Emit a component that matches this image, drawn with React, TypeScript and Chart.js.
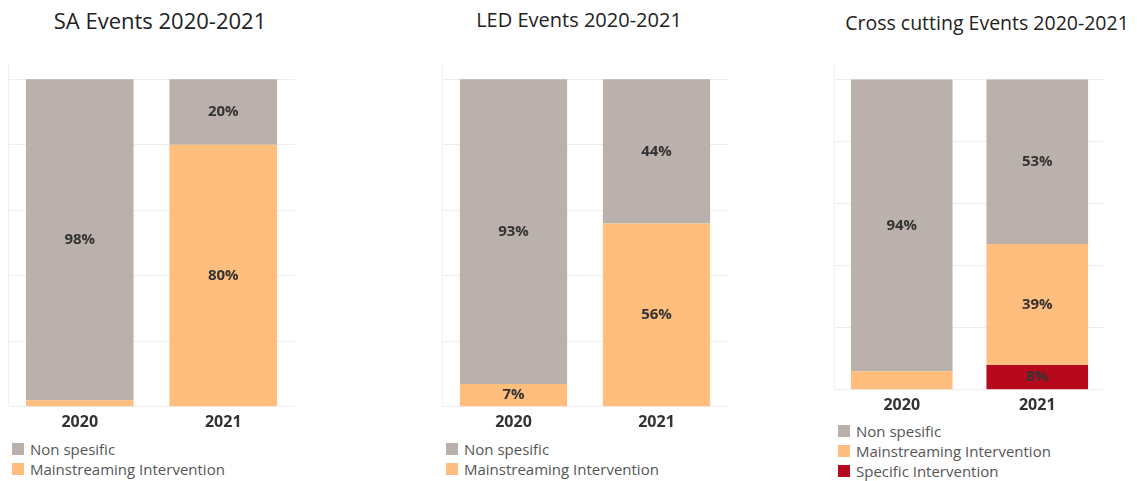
import React, { useEffect, useRef } from 'react';
import Chart from 'chart.js/auto';

const years = ['2020', '2021'];
const seriesNames = ['Non spesific', 'Mainstreaming Intervention', 'Specific Intervention'];
const seriesColors = ['#bab0ac', '#ffbe7d', '#b60a1c'];

const saNonSpecific = [98, 20];
const saMainstreaming = [2, 80];

const ledNonSpecific = [93, 44];
const ledMainstreaming = [7, 56];

const crossNonSpecific = [94, 53];
const crossMainstreaming = [6, 39];
const crossSpecific = [0, 8];

const FONT = '"Open Sans", "DejaVu Sans", sans-serif';

// writes the % inside each stacked segment, skips the tiny ones
const segmentLabels = {
  id: 'segmentLabels',
  afterDatasetsDraw(chart: any) {
    const ctx = chart.ctx;
    ctx.save();
    ctx.font = `bold 15px ${FONT}`;
    ctx.fillStyle = '#333333';
    ctx.textAlign = 'center';
    ctx.textBaseline = 'middle';
    chart.data.datasets.forEach((ds: any, i: number) => {
      const meta = chart.getDatasetMeta(i);
      meta.data.forEach((bar: any, j: number) => {
        const v = ds.data[j];
        if (v < 7) return;
        ctx.fillText(`${v}%`, bar.x, (bar.y + bar.base) / 2);
      });
    });
    ctx.restore();
  },
};

interface Series {
  name: string;
  color: string;
  values: number[];
}

interface PanelProps {
  title: string;
  titleSize: number;
  titleX: number;
  titleY: number;
  left: number;
  top: number;
  width: number;
  height: number;
  series: Series[]; // bottom of stack first
  legendX: number;
  legendY: number;
}

function Panel(props: PanelProps) {
  const chartRef = useRef<HTMLCanvasElement>(null);

  useEffect(() => {
    let myChart: any = null;
    if (chartRef.current) {
      myChart = new Chart(chartRef.current, {
        type: 'bar',
        data: {
          labels: years,
          datasets: props.series.map(s => ({
            label: s.name,
            data: s.values,
            backgroundColor: s.color,
            borderWidth: 0,
            barPercentage: 0.75,
            categoryPercentage: 1,
          })),
        },
        options: {
          animation: false,
          responsive: true,
          maintainAspectRatio: false,
          layout: { padding: 0 },
          plugins: {
            legend: { display: false },
            tooltip: { enabled: false },
          },
          scales: {
            x: {
              stacked: true,
              grid: { display: false, drawTicks: false },
              border: { display: false },
              ticks: {
                color: '#333333',
                padding: 6,
                font: { family: FONT, size: 16, weight: 'bold' },
              },
            },
            y: {
              stacked: true,
              min: 0,
              max: 105,
              afterBuildTicks: (axis: any) => {
                axis.ticks = axis.ticks.filter((t: any) => t.value % 20 === 0);
              },
              ticks: { display: false, stepSize: 20 },
              grid: { color: '#eeeeee', drawTicks: false },
              border: { display: true, color: '#f0f0f0' },
            },
          },
        },
        plugins: [segmentLabels],
      });
    }
    return () => {
      if (myChart) myChart.destroy();
    };
  }, []);

  const legendSeries = [...props.series].reverse();

  return (
    <>
      <div
        style={{
          position: 'absolute',
          left: props.titleX,
          top: props.titleY - 15,
          transform: 'translateX(-50%)',
          whiteSpace: 'nowrap',
          fontFamily: FONT,
          fontSize: props.titleSize,
          lineHeight: '30px',
          color: '#222222',
        }}
      >
        {props.title}
      </div>
      <div
        style={{
          position: 'absolute',
          left: props.left,
          top: props.top,
          width: props.width,
          height: props.height,
        }}
      >
        <canvas ref={chartRef} />
      </div>
      <div style={{ position: 'absolute', left: props.legendX, top: props.legendY - 10 }}>
        {legendSeries.map(s => (
          <div
            key={s.name}
            style={{ display: 'flex', alignItems: 'center', height: 20, fontFamily: FONT, fontSize: 15, color: '#555555', whiteSpace: 'nowrap' }}
          >
            <span style={{ display: 'inline-block', width: 12, height: 12, background: s.color, marginRight: 6 }} />
            {s.name}
          </div>
        ))}
      </div>
    </>
  );
}

function App() {
  return (
    <div style={{ position: 'absolute', left: 0, top: 0, width: 1137, height: 481, background: '#ffffff', overflow: 'hidden' }}>
      <Panel
        title="SA Events 2020-2021"
        titleSize={22}
        titleX={160}
        titleY={20}
        left={8}
        top={63}
        width={287}
        height={375}
        series={[
          { name: seriesNames[1], color: seriesColors[1], values: saMainstreaming },
          { name: seriesNames[0], color: seriesColors[0], values: saNonSpecific },
        ]}
        legendX={12}
        legendY={449}
      />
      <Panel
        title="LED Events 2020-2021"
        titleSize={20}
        titleX={579}
        titleY={20}
        left={442}
        top={63}
        width={286}
        height={375}
        series={[
          { name: seriesNames[1], color: seriesColors[1], values: ledMainstreaming },
          { name: seriesNames[0], color: seriesColors[0], values: ledNonSpecific },
        ]}
        legendX={446}
        legendY={449}
      />
      <Panel
        title="Cross cutting Events 2020-2021"
        titleSize={19.5}
        titleX={987}
        titleY={23}
        left={834}
        top={63.5}
        width={271}
        height={357}
        series={[
          { name: seriesNames[2], color: seriesColors[2], values: crossSpecific },
          { name: seriesNames[1], color: seriesColors[1], values: crossMainstreaming },
          { name: seriesNames[0], color: seriesColors[0], values: crossNonSpecific },
        ]}
        legendX={838}
        legendY={431}
      />
    </div>
  );
}

export default App;
